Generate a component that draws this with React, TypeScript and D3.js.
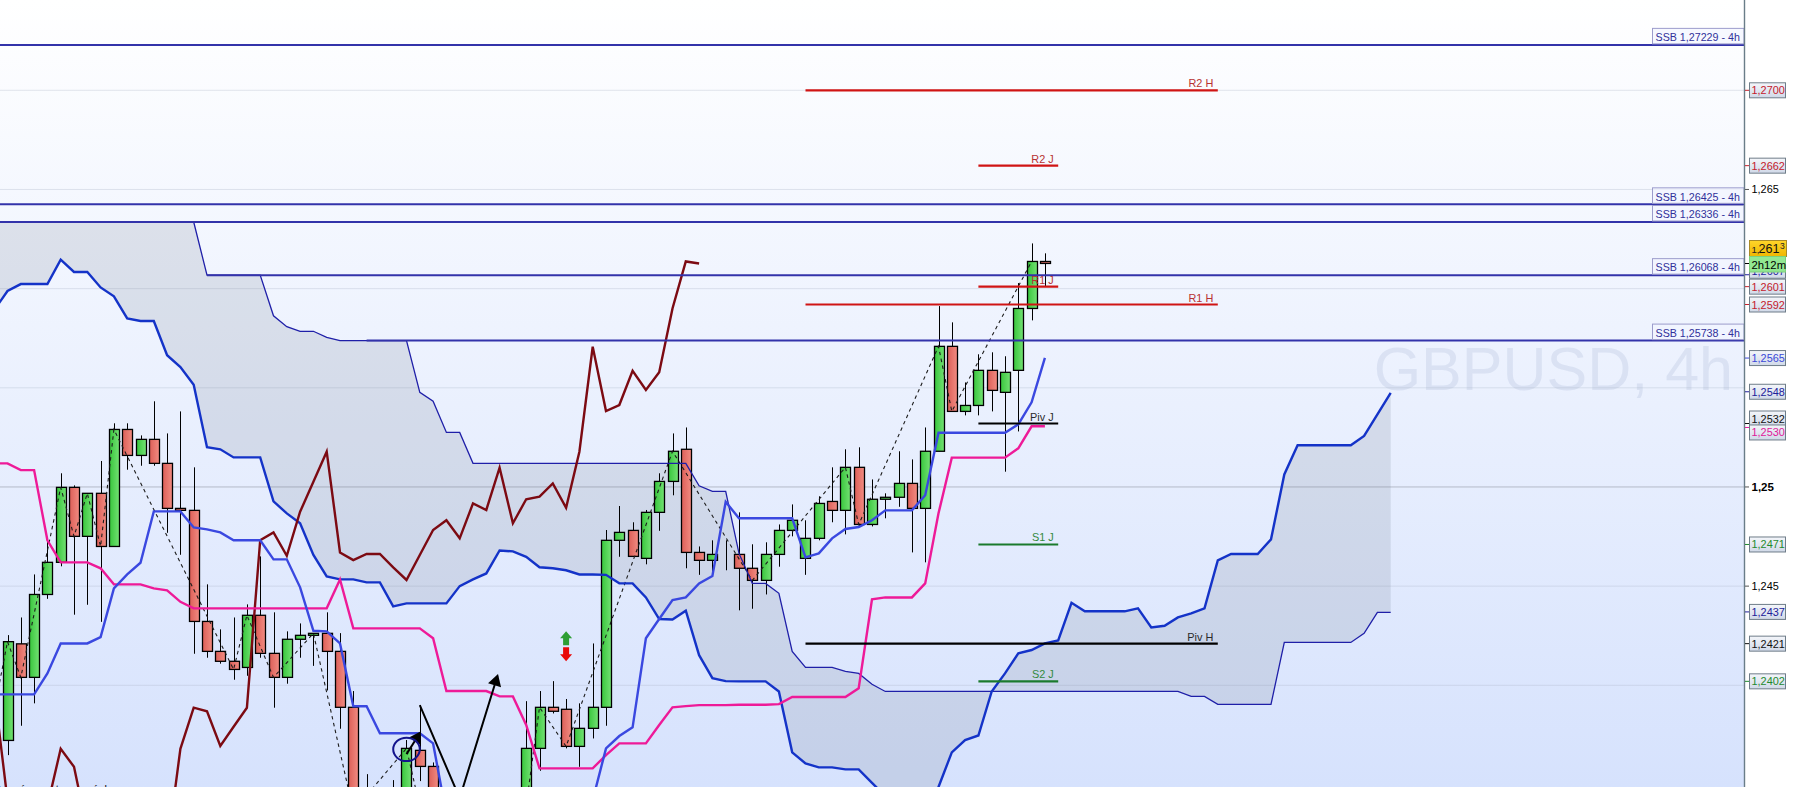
import * as d3 from "d3";

const WIDTH = 1793;
const HEIGHT = 787;
const PLOT_RIGHT = 1744;
const FONT = "'Liberation Sans', Arial, sans-serif";

// one entry per 4h bar, first bar = index 0; null = bar lies below the visible window
const barOpen = [
  1.23722, 1.24209, 1.2404, 1.24458, 1.2462, 1.24998, 1.24751, 1.24968, 1.247, 1.2529,
  1.25159, 1.2524, 1.25119, 1.24892, 1.24882, 1.24322, 1.24171, 1.24121, 1.2409, 1.24353,
  1.24161, 1.2404, 1.24232, 1.24252, 1.24262, 1.24171, 1.23889, 1.23366, null, 1.23366,
  1.23421, 1.23672, 1.23591, null, null, null, null, null, null, 1.2327,
  1.23682, 1.23889, 1.23879, 1.23692, 1.23783, 1.23889, 1.24731, 1.24781, 1.2464, 1.24872,
  1.25028, 1.2519, 1.2467, 1.2463, 1.2466, 1.2466, 1.2459, 1.24529, 1.2466, 1.24781,
  1.2464, 1.24741, 1.24927, 1.24882, 1.25099, 1.24811, 1.24938, 1.24948, 1.25018, 1.24892,
  1.2518, 1.25709, 1.25381, 1.25411, 1.25588, 1.25477, 1.25588, 1.259, 1.26137,
];
const barHigh = [
  1.24253, 1.24342, 1.24559, 1.24732, 1.25069, 1.25008, 1.24968, 1.25131, 1.25321, 1.25321,
  1.2526, 1.25432, 1.2527, 1.25381, 1.25099, 1.24509, 1.24282, 1.24342, 1.24408, 1.2465,
  1.24368, 1.24272, 1.24312, 1.24262, 1.24368, 1.24263, 1.23971, 1.23552, null, 1.23522,
  1.23724, 1.239, 1.23611, null, null, null, null, null, null, 1.2392,
  1.23971, 1.24021, 1.23931, 1.23909, 1.24211, 1.24783, 1.24904, 1.24822, 1.24884, 1.25069,
  1.2527, 1.253, 1.247, 1.24731, 1.24731, 1.24872, 1.24711, 1.24721, 1.24811, 1.24912,
  1.24832, 1.24953, 1.25099, 1.2519, 1.252, 1.25038, 1.24968, 1.2518, 1.25139, 1.253,
  1.25912, 1.2583, 1.25527, 1.25669, 1.25679, 1.25659, 1.26028, 1.26228, 1.26178,
];
const barLow = [
  1.23648, 1.23796, 1.23909, 1.24436, 1.246, 1.24356, 1.24406, 1.2432, 1.247, 1.25087,
  1.25107, 1.25107, 1.24769, 1.24658, 1.24159, 1.24139, 1.24109, 1.24028, 1.24048, 1.24139,
  1.23887, 1.24008, 1.24139, 1.24098, 1.23974, 1.23781, 1.23169, 1.23295, null, 1.23295,
  1.23371, 1.23517, 1.23346, null, null, null, null, null, null, 1.2322,
  1.23569, 1.23858, 1.23682, 1.23589, 1.23732, 1.23796, 1.24648, 1.2465, 1.2461, 1.24779,
  1.24958, 1.2459, 1.24557, 1.24547, 1.2458, 1.24378, 1.24386, 1.24458, 1.24598, 1.24751,
  1.24557, 1.24731, 1.24822, 1.24761, 1.24801, 1.24801, 1.24842, 1.249, 1.2467, 1.2462,
  1.2518, 1.25381, 1.25361, 1.25361, 1.25381, 1.25077, 1.2528, 1.2584, 1.26013,
];
const barClose = [
  1.2422, 1.2404, 1.24458, 1.2462, 1.24998, 1.24751, 1.24968, 1.247, 1.2529, 1.25159,
  1.2524, 1.25119, 1.24892, 1.24882, 1.24322, 1.24171, 1.24121, 1.2408, 1.24353, 1.24161,
  1.2404, 1.24232, 1.24252, 1.24262, 1.24171, 1.23889, 1.23366, 1.23447, null, 1.23447,
  1.23682, 1.23591, 1.23421, null, null, null, null, null, null, 1.23682,
  1.23889, 1.23869, 1.23692, 1.23783, 1.23889, 1.24731, 1.24771, 1.2465, 1.24872, 1.25028,
  1.2518, 1.2467, 1.2463, 1.2466, 1.2466, 1.2459, 1.24529, 1.2466, 1.24781, 1.24832,
  1.24741, 1.24917, 1.24882, 1.25099, 1.24811, 1.24938, 1.24948, 1.25018, 1.24892, 1.2518,
  1.25709, 1.25381, 1.25411, 1.25588, 1.25487, 1.25578, 1.259, 1.26137, 1.26127,
];

// ichimoku series, all start at bar index -1
const tenkan = [
  1.23954,
  1.23954, 1.23954, 1.23954, 1.2406, 1.24211, 1.24211, 1.24211, 1.24243, 1.24489, 1.24559,
  1.24618, 1.24877, 1.24877, 1.24877, 1.24796, 1.24786, 1.24771, 1.24731, 1.24731, 1.24731,
  1.24635, 1.24635, 1.24494, 1.24275, 1.24272, 1.24211, 1.23894, 1.23894, 1.23758, 1.23758,
  1.23758, 1.23758, 1.23707, 1.23346, null, null, null, null, null, null,
  null, null, null, null, 1.23421, 1.23682, 1.23744, 1.23788, 1.24237, 1.24334,
  1.2443, 1.24443, 1.24514, 1.24551, 1.24925, 1.24842, 1.24842, 1.24842, 1.24842, 1.24842,
  1.24645, 1.24665, 1.24741, 1.24788, 1.24798, 1.24832, 1.24882, 1.24882, 1.24882, 1.24958,
  1.25273, 1.25273, 1.25273, 1.25273, 1.25273, 1.25273, 1.25316, 1.25427, 1.25651,
];
const kijun = [
  1.25119,
  1.25119, 1.25085, 1.25085, 1.24731, 1.2462, 1.2462, 1.2462, 1.2459, 1.24509, 1.24509,
  1.24509, 1.24489, 1.24479, 1.24421, 1.24388, 1.24388, 1.24388, 1.24388, 1.24388, 1.24388,
  1.24388, 1.24388, 1.24388, 1.24388, 1.24388, 1.24534, 1.24287, 1.24287, 1.24287, 1.24287,
  1.24287, 1.24287, 1.24237, 1.23971, 1.23971, 1.23971, 1.23971, 1.23944, 1.23944, 1.238,
  1.23581, 1.23581, 1.23581, 1.23581, 1.23581, 1.23648, 1.23707, 1.23707, 1.23707, 1.238,
  1.23889, 1.23895, 1.239, 1.239, 1.239, 1.23902, 1.23902, 1.23902, 1.23905, 1.23941,
  1.23941, 1.23941, 1.23941, 1.23941, 1.23985, 1.24433, 1.24443, 1.24443, 1.24443, 1.24514,
  1.24867, 1.25148, 1.25148, 1.25148, 1.25148, 1.25148, 1.25195, 1.25306, 1.25306,
];
const chikou = [
  1.23976,
  1.23421, null, null, 1.23391, 1.2368, 1.23589, 1.2327, null, null, null,
  null, null, 1.23169, 1.2368, 1.23887, 1.23869, 1.23694, 1.23791, 1.23887, 1.24731,
  1.24771, 1.24653, 1.24875, 1.25026, 1.25178, 1.2467, 1.24631, 1.24662, 1.24662, 1.24595,
  1.24531, 1.24657, 1.24783, 1.24832, 1.24741, 1.24917, 1.24884, 1.25097, 1.24817, 1.24938,
  1.24951, 1.25018, 1.24895, 1.25178, 1.25707, 1.25383, 1.25413, 1.25586, 1.25489, 1.25578,
  1.259, 1.26137, 1.26127,
];
const senkouA = [
  1.25892,
  1.25988, 1.26023, 1.26023, 1.26023, 1.26146, 1.26084, 1.26084, 1.26006, 1.25961, 1.2585,
  1.25837, 1.25837, 1.25664, 1.25605, 1.25515, 1.252, 1.2519, 1.25149, 1.25149, 1.25149,
  1.24927, 1.24867, 1.24817, 1.24657, 1.24549, 1.24534, 1.24534, 1.24519, 1.24519, 1.24398,
  1.24413, 1.24413, 1.24413, 1.24413, 1.245, 1.24534, 1.24564, 1.2468, 1.24675, 1.24648,
  1.24595, 1.2459, 1.2458, 1.24559, 1.24559, 1.24557, 1.24514, 1.24514, 1.24443, 1.24334,
  1.24332, 1.24376, 1.24152, 1.24036, 1.24021, 1.2402, 1.2402, 1.2402, 1.23969, 1.23662,
  1.23606, 1.23586, 1.23586, 1.23576, 1.23576, 1.23508, 1.23441, 1.23421, 1.23421, 1.23421,
  1.23487, 1.23662, 1.23724, 1.23747, 1.23969, 1.2406, 1.24161, 1.24178, 1.24211, 1.24226,
  1.24416, 1.24373, 1.24373, 1.24373, 1.24373, 1.24388, 1.24292, 1.243, 1.24342, 1.24363,
  1.24388, 1.2463, 1.24662, 1.24662, 1.24662, 1.24736, 1.25063, 1.2521, 1.2521, 1.2521,
  1.2521, 1.2521, 1.25257, 1.25366, 1.25475,
];
const senkouB = [
  1.26336,
  1.26336, 1.26336, 1.26336, 1.26336, 1.26336, 1.26336, 1.26336, 1.26336, 1.26336, 1.26336,
  1.26336, 1.26336, 1.26336, 1.26336, 1.26336, 1.26068, 1.26068, 1.26068, 1.26068, 1.26068,
  1.25863, 1.25808, 1.25785, 1.25785, 1.25754, 1.25738, 1.25738, 1.25738, 1.25738, 1.25738,
  1.25738, 1.25477, 1.25432, 1.25275, 1.25275, 1.25119, 1.25119, 1.25119, 1.25119, 1.25119,
  1.25119, 1.25119, 1.25119, 1.25119, 1.25119, 1.25119, 1.25119, 1.25119, 1.25119, 1.25119,
  1.25119, 1.25119, 1.25006, 1.24978, 1.24978, 1.24665, 1.24514, 1.24514, 1.24464, 1.24171,
  1.2409, 1.2409, 1.2409, 1.2407, 1.2406, 1.24005, 1.23969, 1.23969, 1.23969, 1.23969,
  1.23969, 1.23969, 1.23969, 1.23969, 1.23969, 1.23969, 1.23969, 1.23969, 1.23969, 1.23969,
  1.23969, 1.23969, 1.23969, 1.23969, 1.23969, 1.23969, 1.23969, 1.23969, 1.23969, 1.23944,
  1.23944, 1.23904, 1.23904, 1.23904, 1.23904, 1.23904, 1.24216, 1.24216, 1.24216, 1.24216,
  1.24216, 1.24216, 1.24262, 1.24368, 1.24368,
];

// zigzag pivots
const zigzagBars = [-1, 0, 1, 4, 5, 6, 7, 8, 17, 18, 20, 23, 26, 30, 36, 40, 42, 50, 56, 63, 64, 70, 71, 77];
const zigzagPrices = [
  1.23875, 1.2422, 1.2404, 1.24998, 1.24751, 1.24968, 1.247, 1.2529, 1.2408, 1.24353, 1.2404, 1.24262,
  1.23366, 1.23682, 1.21909, 1.23889, 1.23692, 1.2518, 1.24529, 1.25099, 1.24811, 1.25709, 1.25381, 1.26137,
];

// SSB levels from the 4h chart
const ssbLevels = [1.27229, 1.26425, 1.26336, 1.26068, 1.25738];
const ssbLabels = ["SSB 1,27229 - 4h", "SSB 1,26425 - 4h", "SSB 1,26336 - 4h", "SSB 1,26068 - 4h", "SSB 1,25738 - 4h"];
const ssbStartBars = [-1, -1, -1, 15, 27];

// pivots, H = weekly block, J = daily block
const pivotNames = ["R2 H", "R1 H", "Piv H", "R2 J", "R1 J", "Piv J", "S1 J", "S2 J"];
const pivotPrices = [1.27, 1.2592, 1.2421, 1.2662, 1.2601, 1.2532, 1.2471, 1.2402];

// price tags on the axis
const tagPrices = [1.27, 1.2662, 1.2607, 1.2601, 1.2592, 1.2565, 1.2548, 1.2532, 1.253, 1.2471, 1.2437, 1.2421, 1.2402];
const tagKinds = ["red", "red", "navy", "red", "red", "blue", "navy", "black", "magenta", "green", "navy", "black", "green"];
const tagShift = [0, 0, -4, 0, 0, 0, 0, -5, 5, 0, 0, 0, 0];

const gridPrices = [1.27, 1.265, 1.26, 1.255, 1.25, 1.245, 1.24];
const axisTicks = [1.265, 1.25, 1.245];
const axisTickLabels = ["1,265", "1,25", "1,245"];

const lastPrice = 1.2613;

const x = d3.scaleLinear().domain([0, 104]).range([7.5, 1390.7]);
const y = d3.scaleLinear().domain([1.24, 1.27]).range([685.3, 90.3]);

const tagColors: Record<string, string> = {
  red: "#c4202c",
  navy: "#20209a",
  blue: "#3a48d8",
  black: "#111111",
  magenta: "#e0189a",
  green: "#1f8a2e",
};

function seriesPath(values: (number | null)[]) {
  return d3
    .line<number | null>()
    .defined((d) => d !== null)
    .x((_, i) => x(i - 1))
    .y((d) => y(d as number))(values) ?? undefined;
}

function ArrowHead({ from, to, size }: { from: [number, number]; to: [number, number]; size: number }) {
  const angle = (Math.atan2(to[0] - from[0], from[1] - to[1]) * 180) / Math.PI;
  const back = Math.sqrt(size) * 0.62;
  const rad = (angle * Math.PI) / 180;
  const cx = to[0] - Math.sin(rad) * back;
  const cy = to[1] + Math.cos(rad) * back;
  return <path d={d3.symbol(d3.symbolTriangle, size)() ?? undefined} transform={`translate(${cx} ${cy}) rotate(${angle})`} fill="#000" />;
}

function Candles() {
  return (
    <g>
      {barOpen.map((open, i) => {
        const close = barClose[i];
        if (open === null || close === null) return null;
        const cx = Math.round(x(i)) + 0.5;
        const up = close >= open;
        const top = y(Math.max(open, close));
        const bottom = y(Math.min(open, close));
        return (
          <g key={i}>
            <line x1={cx} x2={cx} y1={y(barHigh[i] as number)} y2={y(barLow[i] as number)} stroke="#000" strokeWidth={1} />
            <rect
              x={cx - 5}
              y={top}
              width={10}
              height={Math.max(bottom - top, 0)}
              fill={up ? "url(#bullFill)" : "url(#bearFill)"}
              stroke="#000"
              strokeWidth={1.3}
            />
          </g>
        );
      })}
    </g>
  );
}

function PriceTag({ price, kind, shift }: { price: number; kind: string; shift: number }) {
  const cy = y(price) + shift;
  return (
    <g>
      <line x1={1745} x2={1749} y1={y(price)} y2={y(price)} stroke={tagColors[kind]} />
      <rect x={1749.5} y={cy - 7.5} width={36} height={15} fill="url(#tagFill)" stroke="#6f7d89" />
      <text x={1751.5} y={cy + 4} fontSize={10.9} fill={tagColors[kind]}>
        {price.toFixed(4).replace(".", ",")}
      </text>
    </g>
  );
}

export default function App() {
  const bars = d3.range(-1, 105);
  const cloud = d3
    .area<number>()
    .x((b) => x(b))
    .y0((b) => y(senkouB[b + 1]))
    .y1((b) => y(senkouA[b + 1]));
  const zigzag = d3
    .line<number>()
    .x((b) => x(b))
    .y((_, i) => y(zigzagPrices[i]));

  // drawn annotations
  const longArrow: [number, number][] = [
    [x(31), y(1.239)],
    [x(34), y(1.23431)],
    [x(36.83), y(1.24046)],
  ];
  const smallArrow: [number, number][] = [
    [x(30), y(1.23653)],
    [x(31), y(1.23758)],
  ];
  const signalX = x(42);

  const pivotColor = (name: string) => (name[0] === "R" ? "#d01414" : name[0] === "S" ? "#1a7a2c" : "#000000");
  const pivotText = (name: string) => (name[0] === "R" ? "#b83232" : name[0] === "S" ? "#348a3e" : "#2a2a2a");

  return (
    <svg width={WIDTH} height={HEIGHT} style={{ position: "absolute", left: 0, top: 0, display: "block" }} fontFamily={FONT}>
      <defs>
        <linearGradient id="plotBg" x1="0" x2="0" y1="0" y2="1">
          <stop offset="0" stopColor="#ffffff" />
          <stop offset="1" stopColor="#d6e2fd" />
        </linearGradient>
        <linearGradient id="bullFill" x1="0" x2="1" y1="0" y2="0">
          <stop offset="0" stopColor="#38c63c" />
          <stop offset="1" stopColor="#74e274" />
        </linearGradient>
        <linearGradient id="bearFill" x1="0" x2="1" y1="0" y2="0">
          <stop offset="0" stopColor="#dc5f58" />
          <stop offset="1" stopColor="#f28c82" />
        </linearGradient>
        <linearGradient id="tagFill" x1="0" x2="0" y1="0" y2="1">
          <stop offset="0" stopColor="#f4f6fa" />
          <stop offset="1" stopColor="#d0d9e8" />
        </linearGradient>
        <linearGradient id="goldFill" x1="0" x2="0" y1="0" y2="1">
          <stop offset="0" stopColor="#ffd52a" />
          <stop offset="1" stopColor="#efb600" />
        </linearGradient>
      </defs>

      <rect width={WIDTH} height={HEIGHT} fill="#ffffff" />
      <rect width={PLOT_RIGHT} height={HEIGHT} fill="url(#plotBg)" />

      <text x={1733} y={390} textAnchor="end" fontSize={61} fill="#5a74a8" fillOpacity={0.12}>
        GBPUSD, 4h
      </text>

      {gridPrices.map((p) => (
        <line
          key={p}
          x1={0}
          x2={PLOT_RIGHT}
          y1={y(p)}
          y2={y(p)}
          stroke={p === 1.25 ? "#b5bac8" : "#a8b2c4"}
          strokeOpacity={p === 1.25 ? 1 : 0.32}
        />
      ))}

      <path d={cloud(bars) ?? undefined} fill="#6c7488" fillOpacity={0.17} />

      <Candles />

      <path d={zigzag(zigzagBars) ?? undefined} fill="none" stroke="#1c1c1c" strokeWidth={1.1} strokeDasharray="3.5 3.5" />

      <path d={seriesPath(senkouB)} fill="none" stroke="#1f1fa8" strokeWidth={1.3} />
      <path d={seriesPath(senkouA)} fill="none" stroke="#1433c8" strokeWidth={2.4} />
      <path d={seriesPath(chikou)} fill="none" stroke="#7c0a12" strokeWidth={2.4} />
      <path d={seriesPath(kijun)} fill="none" stroke="#ee1a98" strokeWidth={2.4} />
      <path d={seriesPath(tenkan)} fill="none" stroke="#3a48e0" strokeWidth={2.4} />

      {ssbLevels.map((p, i) => (
        <line key={p} x1={Math.max(x(ssbStartBars[i]), 0)} x2={PLOT_RIGHT} y1={y(p)} y2={y(p)} stroke="#3333aa" strokeWidth={2} />
      ))}

      {pivotNames.map((name, i) => {
        const weekly = name.endsWith("H");
        const start = weekly ? x(60) : x(73);
        const end = weekly ? x(91) : x(79);
        return (
          <g key={name}>
            <line x1={start} x2={end} y1={y(pivotPrices[i])} y2={y(pivotPrices[i])} stroke={pivotColor(name)} strokeWidth={2.2} />
            <text x={end - 4.5} y={y(pivotPrices[i]) - 3} textAnchor="end" fontSize={10.9} fill={pivotText(name)}>
              {name}
            </text>
          </g>
        );
      })}

      {ssbLevels.map((p, i) => (
        <g key={ssbLabels[i]}>
          <rect x={1652.5} y={y(p) - 16.5} width={PLOT_RIGHT - 1652.5} height={15.5} fill="#f2f5ff" fillOpacity={0.7} stroke="#9c9ccc" />
          <text x={1655.5} y={y(p) - 3.8} fontSize={10.7} fill="#30309a">
            {ssbLabels[i]}
          </text>
        </g>
      ))}

      <polyline points={longArrow.join(" ")} fill="none" stroke="#000" strokeWidth={2} />
      <ArrowHead from={longArrow[1]} to={longArrow[2]} size={80} />
      <line x1={smallArrow[0][0]} y1={smallArrow[0][1]} x2={smallArrow[1][0]} y2={smallArrow[1][1]} stroke="#000" strokeWidth={2} />
      <ArrowHead from={smallArrow[0]} to={smallArrow[1]} size={80} />
      <ellipse cx={x(30)} cy={y(1.23677)} rx={13.3} ry={11.7} fill="none" stroke="#14148c" strokeWidth={2} />

      <g transform={`translate(${signalX} ${y(1.24273)})`}>
        <path d="M0 0 L6 7 L3 7 L3 14 L-3 14 L-3 7 L-6 7 Z" fill="#2e9e34" />
      </g>
      <g transform={`translate(${signalX} ${y(1.24121)})`}>
        <path d="M0 0 L6 -7 L3 -7 L3 -14 L-3 -14 L-3 -7 L-6 -7 Z" fill="#e80808" />
      </g>

      <text x={107} y={793} textAnchor="end" fontSize={11} fill="#111">
        Données en temps réel
      </text>

      <line x1={PLOT_RIGHT + 0.5} x2={PLOT_RIGHT + 0.5} y1={0} y2={HEIGHT} stroke="#6a7d88" strokeWidth={1.4} />

      {axisTicks.map((p, i) => (
        <g key={p}>
          <line x1={1745} x2={1749} y1={y(p)} y2={y(p)} stroke="#555" />
          <text x={1751.5} y={y(p) + 4} fontSize={p === 1.25 ? 11.5 : 10.9} fontWeight={p === 1.25 ? 700 : 400} fill="#000">
            {axisTickLabels[i]}
          </text>
        </g>
      ))}

      {tagPrices.map((p, i) => (
        <PriceTag key={p} price={p} kind={tagKinds[i]} shift={tagShift[i]} />
      ))}

      <rect x={1749.5} y={240.5} width={37} height={16} fill="url(#goldFill)" stroke="#a88a28" />
      <text x={1751.5} y={253} fontSize={9.5} fill="#222">
        {lastPrice.toFixed(4).slice(0, 2).replace(".", ",")}
      </text>
      <text x={1758.5} y={253} fontSize={12.6} fill="#111">
        {lastPrice.toFixed(4).slice(2, 5)}
      </text>
      <text x={1780} y={248.5} fontSize={8.5} fill="#222">
        {lastPrice.toFixed(4).slice(5)}
      </text>
      <line x1={1745} x2={1749} y1={263.5} y2={263.5} stroke="#000" />
      <rect x={1749.5} y={256.5} width={36} height={15.5} fill="#92e892" stroke="#7ccf7c" />
      <text x={1751.5} y={268.5} fontSize={11.3} fill="#000">
        2h12m
      </text>
    </svg>
  );
}
